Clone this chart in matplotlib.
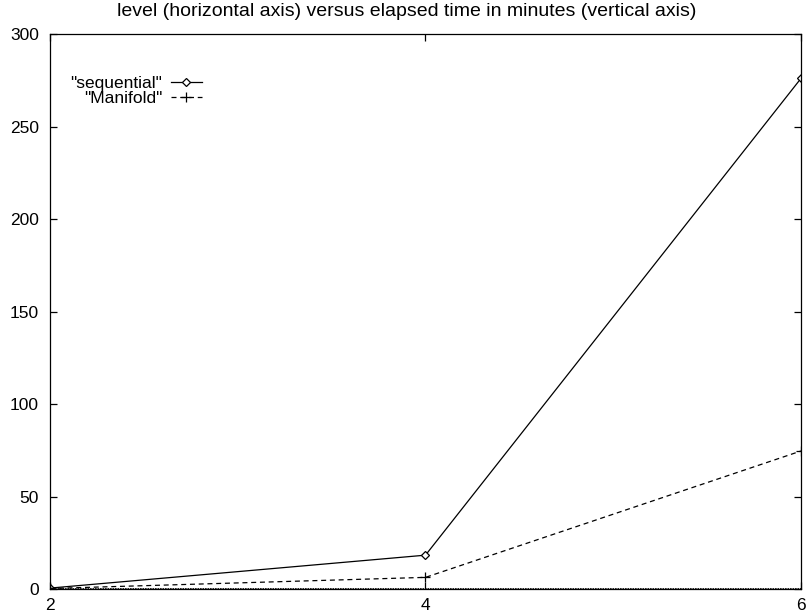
import numpy as np
import matplotlib.pyplot as plt

plt.rcParams['font.family'] = ['Liberation Sans', 'DejaVu Sans']

# level vs elapsed time (minutes)
levels = [2, 4, 6]
sequential = [0.5, 18.3, 276.0]
manifold = [0.3, 6.3, 74.6]

fig = plt.figure(figsize=(8.08, 6.16), dpi=100)
ax = fig.add_axes([0.0619, 0.0438, 0.9294, 0.901])

ax.plot(levels, sequential, color='black', lw=0.9, marker='D', ms=4,
        mfc='white', mec='black', mew=0.9, label='"sequential"')
ax.plot(levels, manifold, color='black', lw=0.9, ls=(0, (4, 3)), marker='+',
        ms=7, mew=0.9, label='"Manifold"')
ax.axhline(0, color='black', lw=1.2, ls=(0, (1, 0.5)))

ax.set_xlim(2, 6)
ax.set_ylim(0, 300)
ax.set_xticks([2, 4, 6])
ax.set_yticks(np.arange(0, 301, 50))
ax.tick_params(direction='in', length=5, width=0.9, labelsize=12.5,
               top=True, right=True)
ax.tick_params(axis='y', pad=8)
ax.tick_params(axis='x', pad=6.5)
for s in ax.spines.values():
    s.set_linewidth(0.9)

# gnuplot centres the title on the whole canvas
fig.text(0.503, 1 - 12 / 616,
         'level (horizontal axis) versus elapsed time in minutes (vertical axis)',
         fontsize=14, ha='center', va='center')

ax.legend(loc='upper right', bbox_to_anchor=(0.2024, 0.925), frameon=False,
          markerfirst=False, fontsize=12.5, handlelength=1.8,
          labelspacing=0.0, handletextpad=0.5, borderaxespad=0, borderpad=0)

plt.savefig('out.png', format='png')
